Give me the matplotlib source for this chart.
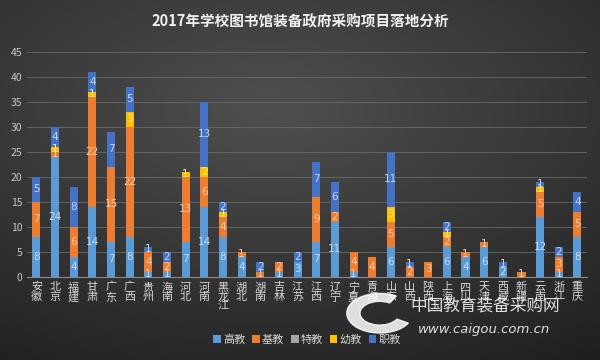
import numpy as np
import matplotlib.pyplot as plt
from matplotlib.patches import Wedge

plt.rcParams['font.family'] = ['Noto Sans CJK SC', 'DejaVu Sans']

# Data
provinces = ['安徽', '北京', '福建', '甘肃', '广东', '广西', '贵州', '海南', '河北', '河南',
             '黑龙江', '湖北', '湖南', '吉林', '江苏', '江西', '辽宁', '宁夏', '青海', '山东',
             '山西', '陕西', '上海', '四川', '天津', '西藏', '新疆', '云南', '浙江', '重庆']
gaojiao = [8, 24, 4, 14, 7, 8, 1, 1, 7, 14, 8, 4, 0, 1, 3, 7, 11, 1, 0, 6, 0, 0, 6, 4, 6, 2, 0, 12, 1, 8]
jijiao = [7, 1, 6, 22, 15, 22, 4, 2, 13, 6, 4, 1, 1, 2, 0, 9, 2, 4, 4, 5, 2, 3, 2, 1, 1, 0, 1, 5, 3, 5]
tejiao = [0] * 30
youjiao = [0, 1, 0, 1, 0, 3, 0, 0, 1, 2, 1, 0, 0, 0, 0, 0, 0, 0, 0, 3, 0, 0, 1, 0, 0, 0, 0, 1, 0, 0]
zhijiao = [5, 4, 8, 4, 7, 5, 1, 2, 0, 13, 2, 0, 2, 0, 2, 7, 6, 0, 0, 11, 1, 0, 2, 0, 0, 1, 0, 1, 2, 4]

series = [('高教', gaojiao, '#5B9BD5', '#C5DDF2'),
          ('基教', jijiao, '#ED7D31', '#F8CDAF'),
          ('特教', tejiao, '#A5A5A5', '#DDDDDD'),
          ('幼教', youjiao, '#FFC000', '#FFE699'),
          ('职教', zhijiao, '#4472C4', '#C9D6F0')]

fig = plt.figure(figsize=(6, 3.6), dpi=100)

# dark gradient background
bg = fig.add_axes([0, 0, 1, 1], zorder=-10)
yy, xx = np.mgrid[0:1:360j, 0:1:600j]
r = np.sqrt(((xx - 0.45) / 1.0) ** 2 + ((yy - 0.3) / 0.9) ** 2)
shade = np.clip(0.31 - 0.2 * r, 0.11, 0.31)
bg.imshow(np.dstack([shade] * 3), aspect='auto', extent=[0, 1, 0, 1])
bg.axis('off')

ax = fig.add_axes([0.045, 0.2314, 0.933, 0.625])
ax.set_facecolor('none')
x = np.arange(len(provinces))
bottom = np.zeros(len(provinces))
for name, vals, color, lc in series:
    vals = np.array(vals)
    ax.bar(x, vals, width=0.43, bottom=bottom, color=color, label=name, zorder=3)
    for xi, v, b in zip(x, vals, bottom):
        if v > 0:
            ax.text(xi, b + v / 2, str(v), ha='center', va='center',
                    fontsize=7.5, color=lc, zorder=4, family='DejaVu Sans')
    bottom += vals

ax.set_xlim(-0.5, len(provinces) - 0.5)
ax.set_ylim(0, 45)
ax.set_yticks(range(0, 46, 5))
ax.yaxis.grid(True, color='#6a6a6a', linewidth=0.6, zorder=0)
for s in ['top', 'right', 'left']:
    ax.spines[s].set_visible(False)
ax.spines['bottom'].set_color('#8a8a8a')
ax.tick_params(axis='both', length=0, colors='#c8c8c8', labelsize=7.5)
ax.set_xticks(x)
ax.set_xticklabels(['\n'.join(p) for p in provinces], fontsize=8,
                   color='#d8d8d8', linespacing=0.95, va='top')
ax.tick_params(axis='x', pad=4)

fig.text(0.5, 0.94, '2017年学校图书馆装备政府采购项目落地分析', ha='center', va='center',
         fontsize=10.5, fontweight='bold', color='#f0f0f0')

leg = ax.legend(loc='center', bbox_to_anchor=(0.5, -0.28), ncol=5, frameon=False,
                fontsize=8, handlelength=0.7, handleheight=0.7, handletextpad=0.2,
                columnspacing=0.6)
for t in leg.get_texts():
    t.set_color('#d8d8d8')

# watermark
ring = Wedge((0.633, 0.13), 0.055, 60, 330, width=0.022, transform=fig.transFigure,
             color='white', alpha=0.85, zorder=5)
fig.add_artist(ring)
fig.text(0.808, 0.147, '中国教育装备采购网', ha='center', va='center', fontsize=12,
         color='white', alpha=0.85)
fig.text(0.807, 0.086, 'www.caigou.com.cn', ha='center', va='center', fontsize=9.5,
         color='white', alpha=0.85, style='italic', family='DejaVu Sans')

fig.savefig('out.png', dpi=100)
